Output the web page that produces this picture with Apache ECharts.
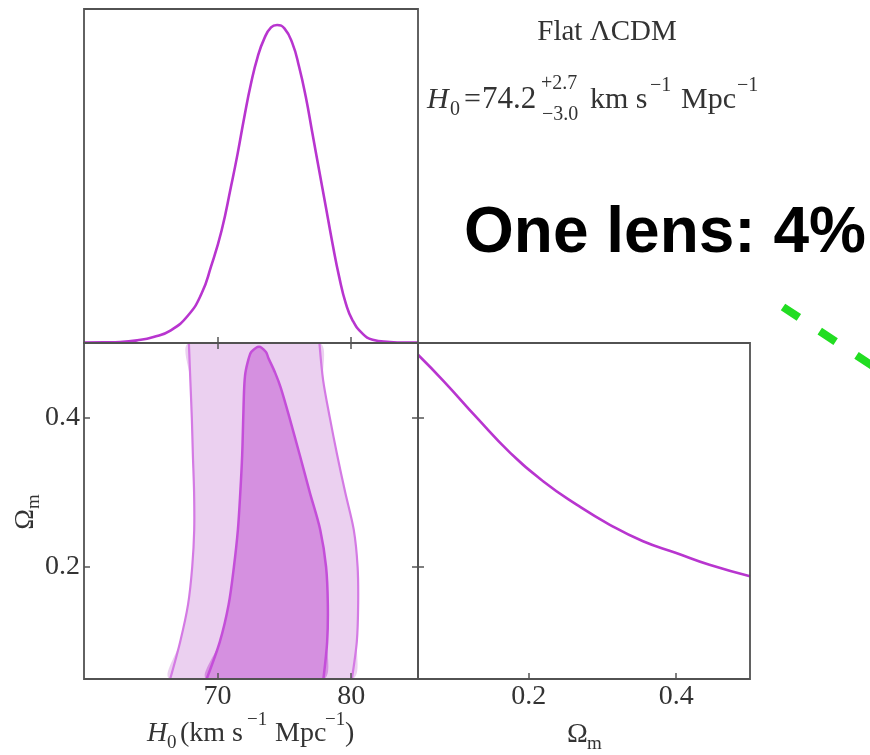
<!DOCTYPE html>
<html><head><meta charset="utf-8">
<script src="https://cdn.jsdelivr.net/npm/echarts@6/dist/echarts.min.js"></script>
<style>html,body{margin:0;padding:0;background:#fff}#c{width:870px;height:755px}</style>
</head><body><div id="c"></div>
<script>
// ---- data ----
// H0 marginal (top panel)
const h0Grid = [60, 61.5, 62.7, 64.0, 65.2, 66.5, 67.8, 68.8, 69.5, 70.3, 71.0, 71.5, 72.0, 72.5, 73.0, 73.5, 74.0, 74.45, 75.0, 75.6, 76.1, 76.6, 77.1, 77.6, 78.1, 78.6, 79.1, 79.6, 80.1, 80.85, 81.6, 82.9, 84.0, 85.0];
const h0Prob = [0.001, 0.002, 0.003, 0.008, 0.018, 0.038, 0.083, 0.148, 0.228, 0.337, 0.468, 0.567, 0.677, 0.777, 0.857, 0.912, 0.945, 0.952, 0.942, 0.897, 0.827, 0.737, 0.627, 0.517, 0.408, 0.298, 0.198, 0.118, 0.068, 0.028, 0.010, 0.003, 0.001, 0.001];
// Omega_m marginal (lower-right panel)
const omGrid = [0.05, 0.085, 0.13, 0.175, 0.22, 0.265, 0.31, 0.355, 0.40, 0.445, 0.50];
const omProb = [0.965, 0.886, 0.777, 0.673, 0.588, 0.519, 0.459, 0.410, 0.375, 0.340, 0.306];
// 2D contours (lower-left panel)
const outerOm = [0.50, 0.45, 0.40, 0.35, 0.30, 0.25, 0.20, 0.15, 0.10, 0.05];
const outerLeftH0 = [67.85, 67.96, 68.07, 68.15, 68.24, 68.25, 68.10, 67.79, 67.20, 66.45];
const outerRightH0 = [77.62, 77.90, 78.40, 78.95, 79.55, 80.19, 80.48, 80.52, 80.42, 80.05];
const innerOm = [0.495, 0.488, 0.48, 0.46, 0.44, 0.40, 0.35, 0.30, 0.25, 0.20, 0.15, 0.10, 0.05];
const innerLeftH0 = [73.10, 72.52, 72.34, 72.08, 71.99, 71.92, 71.84, 71.70, 71.52, 71.22, 70.83, 70.17, 69.18];
const innerRightH0 = [73.10, 73.62, 73.80, 74.31, 74.73, 75.38, 76.15, 76.90, 77.68, 78.12, 78.25, 78.20, 77.92];
// ticks
const h0Ticks = [70, 80];
const omTicks = [0.2, 0.4];

// ---- styling ----
const AX = '#555';
const TXT = '#333';
const SERIF = '"Liberation Serif", "DejaVu Serif", serif';
const LINE = '#b835cf';

const contours = [
  {om: outerOm, left: outerLeftH0, right: outerRightH0, fill: '#ebd0f0', stroke: '#d47ae4', w: 2.2, closed: false},
  {om: innerOm, left: innerLeftH0, right: innerRightH0, fill: '#d590e0', stroke: '#c44ed9', w: 2.5, closed: true}
];

function tickStyle(vals, show) {
  return {show: show !== false, inside: true, length: 6, customValues: vals, lineStyle: {color: AX, width: 1.5}};
}
function valAxis(extra) {
  return Object.assign({
    type: 'value', z: 5,
    axisLine: {show: false, onZero: false},
    splitLine: {show: false},
    axisLabel: {show: false}
  }, extra);
}
const labelStyle = {fontFamily: SERIF, fontSize: 28, color: TXT};

function renderContour(params, api) {
  const c = contours[params.dataIndex];
  const L = c.om.map((o, i) => api.coord([c.left[i], o]));
  const R = c.om.map((o, i) => api.coord([c.right[i], o]));
  const cs = params.coordSys;
  const children = [];
  let poly, strokes;
  if (c.closed) {
    poly = L.concat(R.slice(1).reverse());
    strokes = [L.slice().reverse().concat(R.slice(1))];
  } else {
    poly = L.concat(R.slice().reverse());
    strokes = [L, R];
  }
  children.push({type: 'polygon', shape: {points: poly, smooth: 0.3}, style: {fill: c.fill}});
  strokes.forEach(s => children.push({type: 'polyline', shape: {points: s, smooth: 0.3}, style: {stroke: c.stroke, lineWidth: c.w, fill: null}}));
  return {type: 'group', children: children,
    clipPath: {type: 'rect', shape: {x: cs.x, y: cs.y, width: cs.width, height: cs.height}}};
}

function txt(text, x, y, size, o) {
  o = o || {};
  return {type: 'text', x: x, y: y, z: 10, rotation: o.rot || 0,
    style: {text: text, fontFamily: o.family || SERIF, fontSize: size, fontStyle: o.italic ? 'italic' : 'normal',
      fontWeight: o.bold ? 'bold' : 'normal', fill: o.fill || TXT,
      textAlign: o.align || 'left', textVerticalAlign: 'middle', rich: o.rich}};
}

const gridBase = {show: true, z: 6, borderColor: '#525252', borderWidth: 1.8, backgroundColor: 'transparent'};

const chart = echarts.init(document.getElementById('c'), null, {renderer: 'canvas'});
chart.setOption({
  animation: false,
  backgroundColor: '#fff',
  grid: [
    Object.assign({left: 84, top: 9, width: 334, height: 334}, gridBase),
    Object.assign({left: 84, top: 343, width: 334, height: 336}, gridBase),
    Object.assign({left: 418, top: 343, width: 332, height: 336}, gridBase)
  ],
  xAxis: [
    valAxis({gridIndex: 0, min: 60, max: 85, position: 'bottom', axisTick: tickStyle(h0Ticks)}),
    valAxis({gridIndex: 1, min: 60, max: 85, position: 'bottom', axisTick: tickStyle(h0Ticks),
      axisLabel: Object.assign({show: true, customValues: h0Ticks, margin: 4}, labelStyle)}),
    valAxis({gridIndex: 1, min: 60, max: 85, position: 'top', axisTick: tickStyle(h0Ticks)}),
    valAxis({gridIndex: 2, min: 0.05, max: 0.5, position: 'bottom', axisTick: tickStyle(omTicks),
      axisLabel: Object.assign({show: true, customValues: omTicks, margin: 4, formatter: v => v.toFixed(1)}, labelStyle)})
  ],
  yAxis: [
    valAxis({gridIndex: 0, min: 0, max: 1, show: false}),
    valAxis({gridIndex: 1, min: 0.05, max: 0.5, position: 'left', axisTick: tickStyle(omTicks),
      axisLabel: Object.assign({show: true, customValues: omTicks, margin: 4, formatter: v => v.toFixed(1)}, labelStyle)}),
    valAxis({gridIndex: 1, min: 0.05, max: 0.5, position: 'right', axisTick: tickStyle(omTicks)}),
    valAxis({gridIndex: 2, min: 0, max: 1, show: false}),
    valAxis({gridIndex: 2, min: 0.05, max: 0.5, position: 'left', axisTick: tickStyle(omTicks)})
  ],
  series: [
    {type: 'line', xAxisIndex: 0, yAxisIndex: 0, z: 2, smooth: 0.5, showSymbol: false, silent: true,
      data: h0Grid.map((h, i) => [h, h0Prob[i]]), lineStyle: {color: LINE, width: 2.6}},
    {type: 'custom', xAxisIndex: 1, yAxisIndex: 1, z: 2, silent: true, renderItem: renderContour,
      data: contours.map(() => [73, 0.3])},
    {type: 'line', xAxisIndex: 3, yAxisIndex: 3, z: 2, smooth: 0.5, showSymbol: false, silent: true,
      data: omGrid.map((o, i) => [o, omProb[i]]), lineStyle: {color: LINE, width: 2.6}}
  ],
  graphic: {elements: [
    txt('Flat ΛCDM', 607, 32, 29, {align: 'center'}),
    txt('H', 427, 100, 30, {italic: true}),
    txt('0', 450, 110, 20),
    txt('=', 464, 100, 30),
    txt('74.2', 482, 100, 31),
    txt('+2.7', 541, 84, 20),
    txt('\u22123.0', 542, 115, 20),
    txt('km s', 590, 100, 30),
    txt('\u22121', 650, 86, 20),
    txt('Mpc', 681, 100, 30),
    txt('\u22121', 737, 86, 20),
    txt('One lens: 4%', 665, 234, 64, {align: 'center', bold: true, family: '"Liberation Sans", Arial, sans-serif', fill: '#000'}),
    // bottom-left axis title
    txt('H', 147, 734, 28, {italic: true}),
    txt('0', 167, 743, 19),
    txt('(km s', 180, 734, 28),
    txt('\u22121', 247, 720, 19),
    txt('Mpc', 275, 734, 28),
    txt('\u22121', 325, 720, 19),
    txt(')', 345, 734, 28),
    // bottom-right axis title
    txt('Ω', 567, 735, 28),
    txt('m', 587, 744, 19),
    // left rotated axis title
    txt('{a|Ω}{b|m}', 26, 512, 28, {align: 'center', rot: Math.PI / 2,
      rich: {a: {fontFamily: SERIF, fontSize: 28, fill: TXT, lineHeight: 36, verticalAlign: 'middle'},
             b: {fontFamily: SERIF, fontSize: 19, fill: TXT, lineHeight: 36, verticalAlign: 'bottom'}}}),
    // green dashed annotation line
    {type: 'line', z: 10, shape: {x1: 783, y1: 307, x2: 900, y2: 384},
      style: {stroke: '#22dd22', lineWidth: 8, lineDash: [19, 25]}}
  ]}
});
</script>
</body></html>
